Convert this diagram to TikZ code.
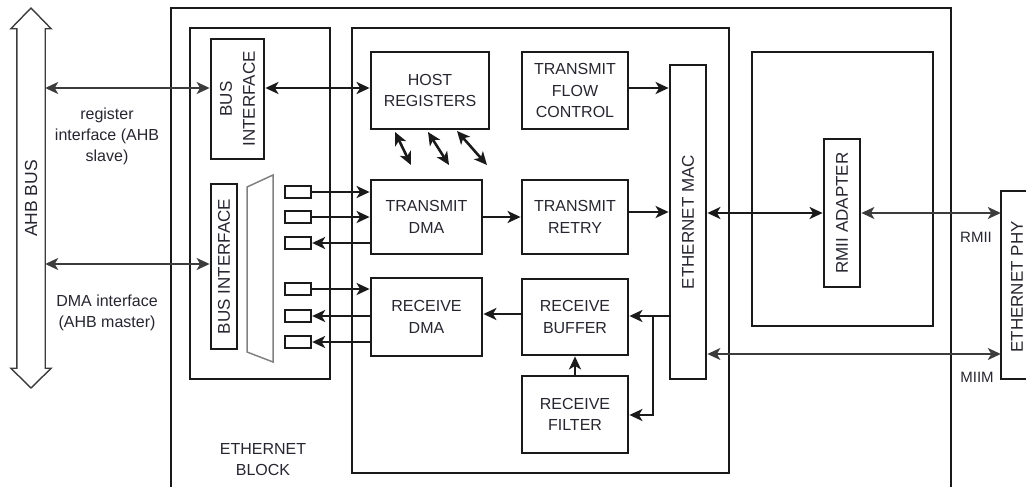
\documentclass[tikz,border=0pt]{standalone}
\usepackage{fontspec}
\setmainfont{Liberation Sans}
\usetikzlibrary{arrows.meta,calc}
\definecolor{ink}{HTML}{1A1A1A}
\definecolor{txt}{HTML}{262630}
\tikzset{
  blk/.style={draw=ink, line width=2.8pt, inner sep=0pt, text=txt,
    font=\fontsize{16}{21.5}\selectfont, align=center},
  vtext/.style={text=txt, font=\fontsize{17}{23}\selectfont, rotate=90, align=center, inner sep=0pt},
  lbl/.style={text=txt, font=\fontsize{16}{21}\selectfont, align=center, inner sep=0pt},
  frame/.style={draw=ink, line width=2.8pt},
  port/.style={draw=ink, line width=2.3pt, minimum width=26pt, minimum height=12pt, inner sep=0pt},
  bigtip/.tip={Stealth[length=13pt,width=12pt,inset=3.5pt]},
  thick link/.style={ink, line width=2.6pt, -bigtip},
  thick dbl/.style={ink, line width=2.6pt, bigtip-bigtip},
  thin dbl/.style={ink!85, line width=1.4pt, bigtip-bigtip},
}
\begin{document}
\begin{tikzpicture}[x=1pt,y=-1pt]
\useasboundingbox (0,0) rectangle (1026,487);

% ---- AHB bus (hollow double arrow) ----
\node[minimum width=28pt, minimum height=339pt, inner sep=0pt] (ahb) at (31,198.5) {};
\draw[ink!85, line width=1.4pt]
  (ahb.south west) -- (ahb.north west) -- ++(-6,0) -- (31,8) -- ($(ahb.north east)+(6,0)$)
  -- (ahb.north east) -- (ahb.south east) -- ++(6,0) -- (31,388) -- ($(ahb.south west)+(-6,0)$) -- cycle;
\node[vtext, font=\fontsize{17.5}{21}\selectfont] at (ahb.center) {AHB BUS};

% ---- enclosing frames ----
\draw[frame] (171,495) -- (171,8) -- (951,8) -- (951,495);
\draw[frame] (190,28) rectangle (330,379);
\draw[frame] (352,28) rectangle (729,473);
\draw[frame] (752,52) rectangle (933,326);
\draw[frame] (1040,191) -- (1001,191) -- (1001,379) -- (1040,379);

% ---- bus interfaces ----
\node[blk, minimum width=53pt, minimum height=120pt] (bi1) at (237.5,99) {};
\node[vtext] at (bi1.center) {BUS\\INTERFACE};
\node[blk, minimum width=26pt, minimum height=165pt] (bi2) at (224,266.5) {};
\node[vtext] at (bi2.center) {BUS INTERFACE};

% multiplexer
\draw[ink!55, line width=1.5pt] (247,187) -- (273,175) -- (273,362) -- (247,352) -- cycle;

% port buffers
\node[port] (p1) at (298,192) {};
\node[port] (p2) at (298,217) {};
\node[port] (p3) at (298,243) {};
\node[port] (p4) at (298,289) {};
\node[port] (p5) at (298,316) {};
\node[port] (p6) at (298,342) {};

% ---- MAC functional blocks ----
\node[blk, minimum width=118pt, minimum height=77pt] (host) at (430,90.5) {HOST\\REGISTERS};
\node[blk, minimum width=106pt, minimum height=77pt] (tfc)  at (575,90.5) {TRANSMIT\\FLOW\\CONTROL};
\node[blk, minimum width=111pt, minimum height=74pt] (tdma) at (426.5,217) {TRANSMIT\\DMA};
\node[blk, minimum width=106pt, minimum height=74pt] (tret) at (575,217) {TRANSMIT\\RETRY};
\node[blk, minimum width=111pt, minimum height=78pt] (rdma) at (426.5,317) {RECEIVE\\DMA};
\node[blk, minimum width=106pt, minimum height=76pt] (rbuf) at (575,317) {RECEIVE\\BUFFER};
\node[blk, minimum width=106pt, minimum height=77pt] (rfil) at (575,414.5) {RECEIVE\\FILTER};
\node[blk, minimum width=36pt, minimum height=314pt] (mac) at (688,222) {};
\node[vtext] at (mac.center) {ETHERNET MAC};
\node[blk, minimum width=36pt, minimum height=148pt] (rmii) at (842,213) {};
\node[vtext] at (rmii.center) {RMII ADAPTER};
\node[minimum width=39pt, minimum height=188pt, inner sep=0pt] (phy) at (1020.5,285) {};
\node[vtext] at (1017,287) {ETHERNET PHY};

% ---- labels ----
\node[lbl] at (107,136) {register\\interface (AHB\\slave)};
\node[lbl] at (107,312.5) {DMA interface\\(AHB master)};
\node[lbl] at (263,459.5) {ETHERNET\\BLOCK};
\node[lbl, font=\fontsize{15}{18}\selectfont] (rmiilbl) at (976,237) {RMII};
\node[lbl, font=\fontsize{15}{18}\selectfont] (miimlbl) at (977,377) {MIIM};

% ---- level coordinates for horizontal links ----
\coordinate (yreg) at (0,88);
\coordinate (ydma) at (0,264);
\coordinate (ymiim) at (0,354);
\coordinate (yrx) at (0,316);
\coordinate (yfil) at (0,415);
\coordinate (xsplit) at (653,0);

% ---- bus side links ----
\draw[thin dbl] (ahb.east |- yreg) -- (bi1.west |- yreg);
\draw[thin dbl] (ahb.east |- ydma) -- (bi2.west |- ydma);
\draw[thick dbl] (bi1.east |- yreg) -- (host.west |- yreg);

% ---- port links ----
\draw[thick link] (p1.east) -- (tdma.west |- p1);
\draw[thick link] (p2.east) -- (tdma.west |- p2);
\draw[thick link] (tdma.west |- p3) -- (p3.east);
\draw[thick link] (p4.east) -- (rdma.west |- p4);
\draw[thick link] (rdma.west |- p5) -- (p5.east);
\draw[thick link] (rdma.west |- p6) -- (p6.east);

% ---- host register access ----
\draw[thick dbl] (395,132) -- (411,165);
\draw[thick dbl] (428,132) -- (449,165);
\draw[thick dbl] (457,131) -- (487,165);

% ---- data path ----
\draw[thick link] (tdma.east) -- (tret.west);
\draw[thick link] (tfc.east |- 0,88) -- (mac.west |- 0,88);
\draw[thick link] (tret.east |- 0,212) -- (mac.west |- 0,212);
\draw[thick link] (mac.west |- yrx) -- (rbuf.east |- yrx);
\draw[thick link] (xsplit |- yrx) -- (xsplit |- yfil) -- (rfil.east |- yfil);
\draw[thick link] (rbuf.west |- 0,314) -- (rdma.east |- 0,314);
\draw[thick link] (rfil.north) -- (rbuf.south);

% ---- PHY side ----
\draw[thick dbl] (mac.east |- rmii.west) -- (rmii.west);
\draw[thin dbl] (rmii.east) -- (phy.west |- rmii.east);
\draw[thin dbl] (mac.east |- ymiim) -- (phy.west |- ymiim);
\end{tikzpicture}
\end{document}
